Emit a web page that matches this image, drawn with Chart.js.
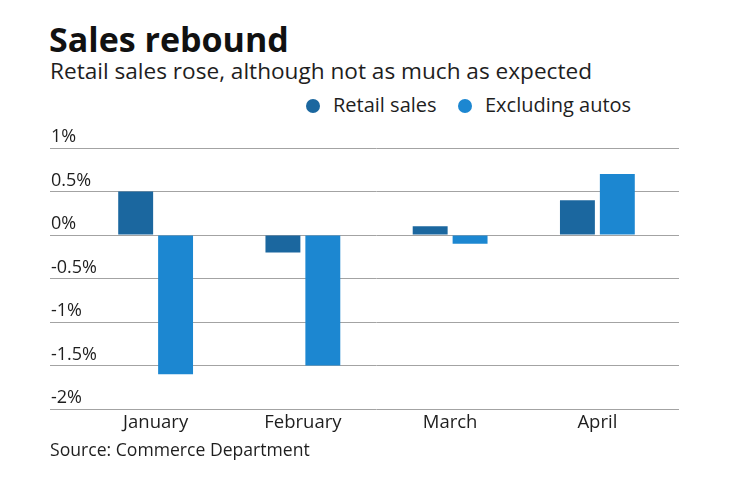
<!DOCTYPE html>
<html>
<head>
<meta charset="utf-8">
<script src="https://cdn.jsdelivr.net/npm/chart.js@4/dist/chart.umd.min.js"></script>
<style>
  body { margin: 0; background: #fff; font-family: "Open Sans", Lato, sans-serif; }
  #wrap { position: relative; width: 740px; height: 482px; overflow: hidden; }
  .txt { position: absolute; line-height: 1; white-space: nowrap; color: #1e1e1e; }
  #titulo { left: 49px; top: 22px; font-size: 34px; font-weight: 700; color: #111; }
  #sub { left: 50px; top: 60px; font-size: 22.6px; }
  #fonte { left: 50px; top: 441px; font-size: 17.6px; }
  .leg { position: absolute; top: 95px; font-size: 20px; line-height: 1; color: #1e1e1e; }
  .dot { position: absolute; width: 14px; height: 14px; border-radius: 50%; top: 99px; }
  #grafico { position: absolute; left: 0; top: 120px; }
</style>
</head>
<body>
<div id="wrap">
  <div class="txt" id="titulo">Sales rebound</div>
  <div class="txt" id="sub">Retail sales rose, although not as much as expected</div>
  <div id="legenda"></div>
  <canvas id="grafico" width="740" height="320"></canvas>
  <div class="txt" id="fonte">Source: Commerce Department</div>
</div>
<script>
// Dados
const meses = ["January", "February", "March", "April"];
const vendasVarejo = [0.5, -0.2, 0.1, 0.4];
const excluindoAutos = [-1.6, -1.5, -0.1, 0.7];
const ticksY = [-2, -1.5, -1, -0.5, 0, 0.5, 1];

const corVarejo = "#1b679f";
const corSemAutos = "#1c87d1";

// Legenda em HTML (posição igual à da referência)
const legenda = document.getElementById("legenda");
[["Retail sales", corVarejo, 306, 333], ["Excluding autos", corSemAutos, 458, 485]].forEach(function(item) {
    const dot = document.createElement("div");
    dot.className = "dot";
    dot.style.left = item[2] + "px";
    dot.style.background = item[1];
    legenda.appendChild(dot);
    const lbl = document.createElement("div");
    lbl.className = "leg";
    lbl.style.left = item[3] + "px";
    lbl.textContent = item[0];
    legenda.appendChild(lbl);
});

const fonteEixo = { family: "'Open Sans', Lato, sans-serif", size: 18 };
const corGrade = "#a3a3a3";

const ctx = document.getElementById("grafico").getContext("2d");
const grafico = new Chart(ctx, {
    type: "bar",
    data: {
        labels: meses,
        datasets: [
            { label: "Retail sales", data: vendasVarejo, backgroundColor: corVarejo },
            { label: "Excluding autos", data: excluindoAutos, backgroundColor: corSemAutos }
        ]
    },
    options: {
        responsive: false,
        animation: false,
        categoryPercentage: 0.542,
        barPercentage: 0.875,
        layout: { padding: { left: 50, right: 61, top: 28, bottom: 0 } },
        plugins: {
            legend: { display: false },
            tooltip: { enabled: false }
        },
        scales: {
            x: {
                grid: { display: false, drawTicks: false },
                border: { display: false },
                ticks: { color: "#1e1e1e", font: { family: fonteEixo.family, size: 18.5 }, padding: 3 },
                afterFit: function(s) { s.height = 31; }
            },
            y: {
                position: "left",
                min: ticksY[0],
                max: ticksY[ticksY.length - 1],
                afterBuildTicks: function(s) { s.ticks = ticksY.map(function(v) { return { value: v }; }); },
                grid: { color: corGrade, lineWidth: 1, drawTicks: true, tickLength: 32, tickColor: corGrade },
                border: { display: false },
                ticks: {
                    color: "#1e1e1e",
                    font: fonteEixo,
                    mirror: true,
                    labelOffset: -11,
                    padding: -31,
                    callback: function(value) { return value + "%"; }
                },
                afterFit: function(s) { s.width = 32; }
            },
            y2: {
                position: "right",
                min: ticksY[0],
                max: ticksY[ticksY.length - 1],
                afterBuildTicks: function(s) { s.ticks = ticksY.map(function(v) { return { value: v }; }); },
                grid: { drawOnChartArea: false, drawTicks: true, tickLength: 8, tickColor: corGrade },
                border: { display: false },
                ticks: { display: false },
                afterFit: function(s) { s.width = 8; }
            }
        }
    }
});
</script>
</body>
</html>
